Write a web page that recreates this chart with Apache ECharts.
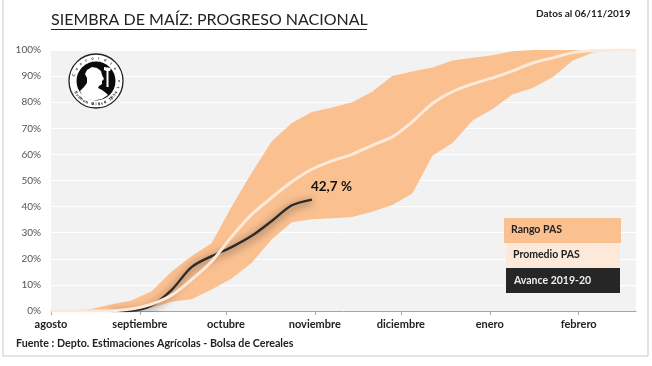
<!DOCTYPE html>
<html><head><meta charset="utf-8">
<style>html,body{margin:0;padding:0;background:#fff}#c{width:652px;height:366px}</style>
<script src="https://cdn.jsdelivr.net/npm/echarts@6/dist/echarts.min.js"></script></head>
<body><div id="c"></div>
<script>
const days=[0,7,14,21,28,35,42,49,56,63,70,77,84,91,98,105,112,119,126,133,140,147,154,161,168,175,182,189,196,204];
const rangeLow=[0,0,0,0,0,1.2,3.5,4.5,8.2,12.5,18.5,27.5,34,35.2,35.5,36,38,40.6,45,59.5,64.4,73,77.4,83,85.4,89.7,96,99,100,100];
const rangeHigh=[0,0.2,0.8,2.5,4,7.5,15,21,26,40,53,65,72,76.2,78,80,84,90,91.8,93.3,96,97,98,99.5,100,100,100,100,100,100];
const promedio=[0,0,0,0.1,0.8,2.6,6,12,19,28.5,37,43.5,49.5,54.3,57.5,60,63.5,66.7,72.5,79.5,84,87,89.3,92,95,97,99,99.8,100,100];
const avanceDays=[21,28,35,42,49,56,63,70,77,84,91];
const avance=[0,0.1,2,8,16.8,21,24.5,28.8,34.5,40.5,42.7];
const monthTicks=[0,31,61,92,122,153,184];
const monthNames=['agosto','septiembre','octubre','noviembre','diciembre','enero','febrero'];
const legendNames=['Rango PAS','Promedio PAS','Avance 2019-20'];
const F='Lato, "Open Sans", sans-serif';

const zip=(x,y)=>x.map((d,i)=>[d,y[i]]);
const bandRows=days.map((d,i)=>[d,rangeLow[i],rangeHigh[i]]);

// seal
const cx=96,cy=81;
const sealText=[];
function arcText(str,startDeg,stepDeg,r,bottom){
  [...str].forEach((ch,i)=>{
    const a=(startDeg+i*stepDeg)*Math.PI/180;
    sealText.push({type:'text',x:cx+r*Math.cos(a),y:cy+r*Math.sin(a),originX:0,originY:0,rotation:bottom?-(a-Math.PI/2):-(a+Math.PI/2),
      style:{text:ch,fontSize:4,fontWeight:'bold',fontFamily:F,fill:'#111',align:'center',verticalAlign:'middle'}});
  });
}
arcText('Concordia et Labore',-165,16.5,23,false);
arcText('Buenos Aires 1854',150,-7.5,23,true);
const off=p=>p.map(([x,y])=>[cx+x,cy+y]);

const graphic=[
 {type:'rect',silent:true,shape:{x:3,y:-4,width:645,height:360},style:{fill:'none',stroke:'#c8c8c8',lineWidth:1}},
 {type:'text',x:51,y:12,style:{text:'SIEMBRA DE MAÍZ: PROGRESO NACIONAL',fontFamily:F,fontSize:16,fill:'#222'}},
 {type:'line',shape:{x1:51,y1:29.5,x2:367,y2:29.5},style:{stroke:'#222',lineWidth:1.2}},
 {type:'text',x:536,y:9,style:{text:'Datos al 06/11/2019',fontFamily:F,fontSize:10,fontWeight:'bold',fill:'#222'}},
 {type:'text',x:16,y:338,style:{text:'Fuente : Depto. Estimaciones Agrícolas - Bolsa de Cereales',fontFamily:F,fontSize:10.7,fontWeight:'bold',fill:'#222'}},
 {type:'rect',z:20,shape:{x:504,y:218,width:117,height:25},style:{fill:'#fac090'}},
 {type:'rect',z:20,shape:{x:506,y:243,width:114,height:25},style:{fill:'#fde9d9'}},
 {type:'rect',z:20,shape:{x:506,y:268,width:114,height:25},style:{fill:'#262626'}},
 {type:'text',z:21,x:511,y:224,style:{text:legendNames[0],fontFamily:F,fontSize:10.5,fontWeight:'bold',fill:'#222'}},
 {type:'text',z:21,x:513,y:249,style:{text:legendNames[1],fontFamily:F,fontSize:10.5,fontWeight:'bold',fill:'#222'}},
 {type:'text',z:21,x:514,y:275,style:{text:legendNames[2],fontFamily:F,fontSize:10.5,fontWeight:'bold',fill:'#eee'}},
 {type:'circle',z:20,shape:{cx,cy,r:27},style:{fill:'#fff',stroke:'#222',lineWidth:1.3}},
 {type:'circle',z:20,shape:{cx,cy,r:19.5},style:{fill:'#0c0c0c'}},
 {type:'polygon',z:21,shape:{points:off([[-16,10],[-12,6],[-9,2],[-9,-3],[-11,-7],[-9,-11],[-4,-14],[1,-13],[5,-10],[6,-6],[8,-2],[6,0],[6,3],[3,5],[2,7],[6,9],[10,12],[12,14],[6,18],[-2,19.5],[-9,18],[-14,14]])},style:{fill:'#fff'}},
 {type:'polygon',z:21,shape:{points:off([[8,-14],[15,-13],[14,-10],[12.5,-10],[12.5,6],[10.5,6],[10.5,-10],[8,-11]])},style:{fill:'#fff'}},
 ...sealText.map(t=>Object.assign(t,{z:22}))
];

const chart=echarts.init(document.getElementById('c'),null,{renderer:'canvas'});
chart.setOption({
 animation:false,
 textStyle:{fontFamily:F},
 graphic,
 grid:{left:51,right:16,top:50,bottom:55,backgroundColor:'#f2f2f2',show:true,borderWidth:0},
 xAxis:{type:'value',min:0,max:204,splitLine:{show:false},
  axisLine:{onZero:false,lineStyle:{color:'#a6a6a6',width:1}},
  axisTick:{show:true,length:4,customValues:monthTicks,lineStyle:{color:'#a6a6a6'}},
  axisLabel:{customValues:monthTicks,formatter:v=>monthNames[monthTicks.indexOf(v)],
    margin:8,fontSize:11,fontWeight:'bold',color:'#222',fontFamily:F,showMinLabel:true,showMaxLabel:true}},
 yAxis:{type:'value',min:0,max:100,interval:10,
  axisLine:{show:false},axisTick:{show:false},
  splitLine:{lineStyle:{color:'#fff',width:1}},
  axisLabel:{formatter:'{value}%',margin:10,fontSize:10,color:'#555',fontFamily:F}},
 series:[
  {name:legendNames[0],type:'custom',data:bandRows,encode:{x:0,y:[1,2]},z:1,clip:false,
   renderItem:(params,api)=>{
     if(params.dataIndex!==0) return null;
     const top=bandRows.map(r=>api.coord([r[0],r[2]]));
     const bottom=bandRows.map(r=>api.coord([r[0],r[1]])).reverse();
     return {type:'polygon',shape:{points:top.concat(bottom)},style:{fill:'#fac090'},silent:true};
   }},
  {name:legendNames[2],type:'line',z:2,data:zip(avanceDays,avance),symbol:'none',smooth:0.3,
   lineStyle:{color:'#2b2b2b',width:2.4,shadowColor:'rgba(0,0,0,0.7)',shadowBlur:8,shadowOffsetY:2},
   endLabel:{show:true,formatter:'42,7 %',offset:[-9,-13],fontSize:13.5,fontWeight:'bold',color:'#111',fontFamily:F}},
  {name:legendNames[1],type:'line',z:3,data:zip(days,promedio),symbol:'none',smooth:0.3,
   lineStyle:{color:'#fde9d9',width:3}}
 ]
});
</script></body></html>
